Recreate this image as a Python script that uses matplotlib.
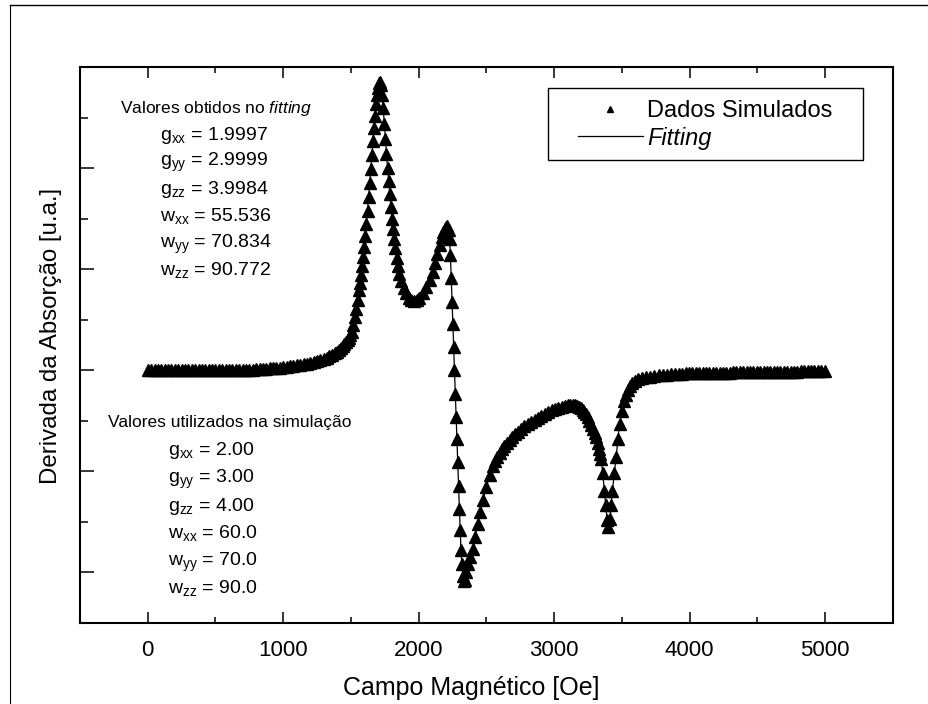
import matplotlib
matplotlib.use('Agg')
import matplotlib.pyplot as plt
from matplotlib.ticker import MultipleLocator
from matplotlib.lines import Line2D
from matplotlib.patches import Rectangle

# ======================== DADOS ========================
# campo magnético [Oe] e derivada da absorção [u.a.], por trechos

# linha de base até o início do primeiro pico
base_field = [0, 25, 50, 75, 100, 125, 150, 175, 200, 225, 250, 275, 300, 325, 350, 375,
              400, 425, 450, 475, 500, 525, 550, 575, 600, 625, 650, 675, 700, 725, 750,
              775, 800, 825, 850, 875, 900, 925, 950, 975, 1000, 1025, 1050, 1075, 1100,
              1125, 1150, 1175, 1200, 1225, 1250, 1275, 1300, 1320, 1340, 1360, 1380,
              1395, 1410, 1425, 1440, 1452, 1465, 1475, 1485, 1495, 1505]
base_deriv = [0, 0, 0, 0, 0, 0, 0, 0, 0, 0, 0, 0, 0, 0, 0, 0,
              0, 0, 0, 0, 0, 0, 0, 0, 0, 0, 0, 0, 0, 0, 0,
              0.005, 0.01, 0.01, 0.01, 0.015, 0.02, 0.02, 0.02, 0.025, 0.03, 0.035, 0.04,
              0.045, 0.05, 0.055, 0.06, 0.065, 0.07, 0.08, 0.09, 0.10, 0.11, 0.125, 0.14,
              0.155, 0.17, 0.185, 0.20, 0.22, 0.24, 0.26, 0.28, 0.30, 0.32, 0.35, 0.38]

# os dois picos positivos (g_zz e g_yy)
peak_field = [1518, 1530, 1540, 1550, 1558, 1566, 1574, 1582, 1590, 1598, 1606, 1614,
              1622, 1630, 1638, 1646, 1654, 1662, 1670, 1678, 1686, 1694, 1702, 1710,
              1716, 1722, 1730, 1738, 1746, 1754, 1762, 1770, 1778, 1786, 1794, 1802,
              1810, 1818, 1826, 1836, 1846, 1858, 1872, 1888, 1905, 1925, 1945, 1965,
              1985, 2005, 2030, 2055, 2080, 2102, 2120, 2138, 2155, 2170, 2182, 2192,
              2200, 2210, 2220]
peak_deriv = [0.45, 0.53, 0.61, 0.70, 0.79, 0.86, 0.94, 1.03, 1.12, 1.22, 1.33, 1.45,
              1.58, 1.71, 1.85, 1.99, 2.13, 2.27, 2.40, 2.52, 2.63, 2.72, 2.79, 2.84,
              2.85, 2.82, 2.72, 2.59, 2.44, 2.29, 2.14, 2.00, 1.87, 1.74, 1.62, 1.50,
              1.40, 1.30, 1.21, 1.11, 1.03, 0.95, 0.88, 0.81, 0.76, 0.72, 0.70, 0.69,
              0.70, 0.72, 0.76, 0.82, 0.89, 0.97, 1.06, 1.15, 1.24, 1.32, 1.37, 1.40,
              1.42, 1.43, 1.39]

# queda, mínimo e subida lenta
drop_field = [2228, 2234, 2240, 2246, 2252, 2258, 2264, 2270, 2276, 2282, 2288, 2294,
              2300, 2306, 2312, 2318, 2326, 2334, 2342, 2352, 2365, 2380, 2397, 2415,
              2435, 2455, 2475, 2500, 2525, 2550, 2565, 2580, 2598, 2615, 2632, 2650,
              2670, 2690, 2710, 2730, 2755, 2780, 2805, 2830, 2855, 2880, 2905, 2930,
              2955, 2980, 3005, 3030, 3055, 3080, 3100, 3120, 3135, 3150]
drop_deriv = [1.30, 1.14, 0.91, 0.68, 0.46, 0.23, 0.00, -0.23, -0.46, -0.68, -0.91, -1.14,
              -1.37, -1.58, -1.78, -1.92, -2.03, -2.08, -2.07, -2.00, -1.92, -1.85, -1.77,
              -1.65, -1.52, -1.40, -1.28, -1.15, -1.04, -0.95, -0.90, -0.86, -0.82, -0.78,
              -0.75, -0.72, -0.69, -0.66, -0.635, -0.61, -0.58, -0.55, -0.53, -0.51, -0.49,
              -0.47, -0.45, -0.43, -0.41, -0.39, -0.38, -0.37, -0.36, -0.35, -0.345, -0.34,
              -0.34, -0.34]

# vale estreito (g_xx)
dip_field = [3165, 3180, 3195, 3210, 3222, 3235, 3248, 3260, 3272, 3285, 3298, 3310,
             3320, 3330, 3338, 3346, 3358, 3370, 3380, 3390, 3400, 3410, 3420, 3430,
             3443, 3457, 3470, 3482, 3500, 3518, 3530, 3545, 3560, 3577, 3598, 3620,
             3650, 3680, 3710, 3740, 3770, 3800, 3830, 3860, 3890, 3920, 3945]
dip_deriv = [-0.35, -0.36, -0.375, -0.39, -0.41, -0.43, -0.46, -0.50, -0.54, -0.58,
             -0.62, -0.66, -0.72, -0.78, -0.83, -0.88, -1.02, -1.19, -1.33, -1.48,
             -1.55, -1.47, -1.33, -1.19, -1.02, -0.86, -0.68, -0.53, -0.40, -0.30,
             -0.24, -0.19, -0.16, -0.13, -0.11, -0.09, -0.08, -0.07, -0.062, -0.055,
             -0.05, -0.045, -0.042, -0.04, -0.037, -0.035, -0.032]

# cauda plana até 5000 Oe
tail_field = [3970, 3995, 4020, 4045, 4070, 4095, 4120, 4145, 4170, 4195, 4220, 4245,
              4270, 4295, 4320, 4345, 4370, 4395, 4420, 4445, 4470, 4495, 4520, 4545,
              4570, 4595, 4620, 4645, 4670, 4695, 4720, 4745, 4770, 4795, 4820, 4845,
              4870, 4895, 4920, 4945, 4970, 5000]
tail_deriv = [-0.03, -0.03, -0.03, -0.03, -0.03, -0.03, -0.03, -0.027, -0.025, -0.025,
              -0.025, -0.025, -0.025, -0.022, -0.02, -0.02, -0.02, -0.02, -0.02, -0.02,
              -0.02, -0.02, -0.02, -0.02, -0.02, -0.018, -0.015, -0.015, -0.015, -0.015,
              -0.015, -0.015, -0.015, -0.012, -0.01, -0.01, -0.01, -0.01, -0.01, -0.01,
              -0.01, -0.01]

field = base_field + peak_field + drop_field + dip_field + tail_field
deriv = base_deriv + peak_deriv + drop_deriv + dip_deriv + tail_deriv

x_ticks = [0, 1000, 2000, 3000, 4000, 5000]

param_names = [r'g$_{\rm xx}$', r'g$_{\rm yy}$', r'g$_{\rm zz}$',
               r'w$_{\rm xx}$', r'w$_{\rm yy}$', r'w$_{\rm zz}$']
fit_values = ['1.9997', '2.9999', '3.9984', '55.536', '70.834', '90.772']
sim_values = ['2.00', '3.00', '4.00', '60.0', '70.0', '90.0']

# ======================== ESTILO ========================
plt.rcParams['font.family'] = ['Liberation Sans', 'DejaVu Sans']
plt.rcParams['mathtext.fontset'] = 'custom'
plt.rcParams['mathtext.rm'] = 'Liberation Sans'
plt.rcParams['mathtext.it'] = 'Liberation Sans:italic'
plt.rcParams['mathtext.bf'] = 'Liberation Sans:bold'

fig = plt.figure(figsize=(9.29, 7.04), dpi=100)
ax = fig.add_axes([0.0861, 0.115, 0.8751, 0.7898])

# linha do fitting + pontos simulados
line, = ax.plot(field, deriv, color='black', linewidth=0.9, zorder=2, label='Fitting')
pts, = ax.plot(field, deriv, linestyle='none', marker='^', markersize=8,
               color='black', markeredgewidth=1.0, zorder=3, label='Dados Simulados')

ax.set_xlim(-500, 5500)
ax.set_ylim(-2.5, 3.0)
ax.set_xticks(x_ticks)
ax.xaxis.set_minor_locator(MultipleLocator(500))
ax.yaxis.set_major_locator(MultipleLocator(1))
ax.yaxis.set_minor_locator(MultipleLocator(0.5))

ax.tick_params(which='both', direction='in', top=True, right=False, width=1.1)
ax.tick_params(axis='x', which='major', length=8, labelsize=16, pad=12)
ax.tick_params(axis='x', which='minor', length=4)
ax.tick_params(axis='y', which='major', length=10, labelleft=False)
ax.tick_params(axis='y', which='minor', length=6)
for sp in ax.spines.values():
    sp.set_linewidth(1.5)

ax.set_xlabel('Campo Magnético [Oe]', fontsize=18)
ax.set_ylabel('Derivada da Absorção [u.a.]', fontsize=17.3)
ax.xaxis.set_label_coords(0.4816, -0.095)
ax.yaxis.set_label_coords(-0.022, 0.517)

# legenda (caixa desenhada à parte)
ax.add_patch(Rectangle((0.5756, 0.8327), 0.3875, 0.1295, transform=ax.transAxes,
                       fill=True, facecolor='white', edgecolor='black',
                       linewidth=1.0, zorder=4))
leg = ax.legend(handles=[pts, line], loc='upper left', bbox_to_anchor=(0.5978, 0.9622),
                borderaxespad=0, fontsize=17, frameon=False, handlelength=2.75,
                handletextpad=0.2, borderpad=0.5, labelspacing=0.2,
                markerscale=0.6, numpoints=1)
leg.set_zorder(5)
leg.get_texts()[1].set_style('italic')

# valores do fitting
ax.text(0.0492, 0.9173, r'Valores obtidos no $\it{fitting}$', transform=ax.transAxes,
        fontsize=12.5, va='baseline')
fit_y = [0.8692, 0.8214, 0.7716, 0.7225, 0.6745, 0.6254]
for name, val, yy in zip(param_names, fit_values, fit_y):
    ax.text(0.0984, yy, name + ' = ' + val, transform=ax.transAxes, fontsize=14,
            va='baseline')

# valores da simulação
ax.text(0.0344, 0.3531, 'Valores utilizados na simulação', transform=ax.transAxes,
        fontsize=12.5, va='baseline')
sim_y = [0.3022, 0.2513, 0.2020, 0.1523, 0.1031, 0.0545]
for name, val, yy in zip(param_names, sim_values, sim_y):
    ax.text(0.1082, yy, name + ' = ' + val, transform=ax.transAxes, fontsize=14,
            va='baseline')

# borda da página digitalizada
fig.add_artist(Line2D([0.011, 1.0], [0.993, 0.993], transform=fig.transFigure,
                      color='black', linewidth=1.0))
fig.add_artist(Line2D([0.011, 0.011], [0.0, 0.993], transform=fig.transFigure,
                      color='black', linewidth=0.8))

fig.savefig('out.png', dpi=100)
